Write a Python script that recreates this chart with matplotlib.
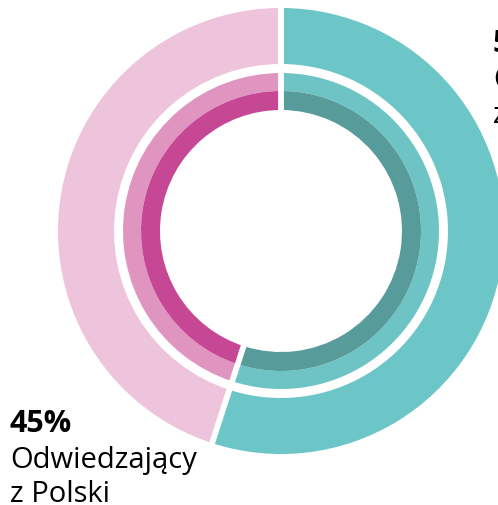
import matplotlib
matplotlib.use("Agg")
import matplotlib.pyplot as plt
import numpy as np

# dane
labels = ["z zagranicy", "z Polski"]
outer_vals = [55, 45]
mid_vals = [55, 45]
inner_vals = [55, 45]
pct_top = "55%"
pct_bottom = "45%"

outer_colors = ["#6cc5c6", "#eec3dc"]
mid_colors = ["#6ec4c5", "#e095c0"]
inner_colors = ["#579b9b", "#c64894"]

W, H = 498, 505
fig = plt.figure(figsize=(W / 100, H / 100), dpi=100)
ax = fig.add_axes([0, 0, 1, 1])

cx, cy = 281, H - 231
rings = [
    (outer_vals, outer_colors, 223, 56),
    (mid_vals, mid_colors, 158, 18),
    (inner_vals, inner_colors, 140, 19),
]
for vals, cols, r, w in rings:
    ax.pie(vals, colors=cols, radius=r, center=(cx, cy), startangle=90,
           counterclock=False, wedgeprops=dict(width=w, linewidth=0),
           frame=True)

ax.set_xlim(0, W)
ax.set_ylim(0, H)
ax.set_aspect("equal")
ax.axis("off")

# białe przerwy między segmentami
frac = np.cumsum(outer_vals) / np.sum(outer_vals)
for f in np.concatenate([[0], frac[:-1]]):
    a = np.deg2rad(90 - 360 * f)
    ax.plot([cx + 110 * np.cos(a), cx + 230 * np.cos(a)],
            [cy + 110 * np.sin(a), cy + 230 * np.sin(a)],
            color="white", lw=4.2, solid_capstyle="butt")

font = "Open Sans"
fs_b = 22
fs = 21
ax.text(10, H - 432, pct_bottom, fontsize=fs_b, fontweight="bold", family=font, va="baseline")
ax.text(10, H - 468, "Odwiedzający", fontsize=fs, family=font, va="baseline")
ax.text(10, H - 502, "z Polski", fontsize=fs, family=font, va="baseline")

ax.text(493, H - 52, pct_top, fontsize=fs_b, fontweight="bold", family=font, va="baseline")
ax.text(493, H - 88, "Odwiedzający", fontsize=fs, family=font, va="baseline")
ax.text(493, H - 123, "z zagranicy", fontsize=fs, family=font, va="baseline")

fig.savefig("out.png", dpi=100)
